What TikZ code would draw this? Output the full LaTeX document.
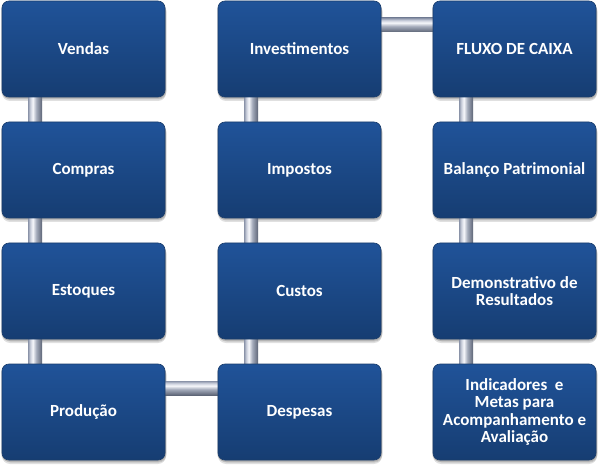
\documentclass[tikz,border=0pt]{standalone}
\usepackage{fontspec}
\setmainfont{Carlito}
\usetikzlibrary{backgrounds,calc}
\definecolor{boxtop}{HTML}{205399}
\definecolor{boxbot}{HTML}{163D72}
\definecolor{boxedge}{HTML}{1A3D6C}
\definecolor{barA}{HTML}{8A93A8}
\definecolor{barL}{HTML}{C9CEDB}
\definecolor{barM}{HTML}{F6F7FB}
\definecolor{barG}{HTML}{A3AABA}
\definecolor{barB}{HTML}{5E6677}
\pgfdeclarehorizontalshading{vbarshade}{100bp}{color(0bp)=(barA); color(25bp)=(barA); color(33bp)=(barL); color(42bp)=(barM); color(55bp)=(barG); color(75bp)=(barB); color(100bp)=(barB)}
\pgfdeclareverticalshading{hbarshade}{100bp}{color(0bp)=(barB); color(25bp)=(barB); color(45bp)=(barG); color(58bp)=(barM); color(67bp)=(barL); color(75bp)=(barA); color(100bp)=(barA)}
\tikzset{
  box/.style={rounded corners=7pt, minimum width=163pt, minimum height=96pt,
    top color=boxtop, bottom color=boxbot, draw=boxedge, line width=0.6pt,
    text=white, font=\bfseries\fontsize{17}{17.5}\selectfont, align=center,
    inner sep=2pt, outer sep=0pt},
  shadowbox/.style={rounded corners=8pt, fill=black, opacity=0.12},
  vbar/.style={shading=vbarshade},
  hbar/.style={shading=hbarshade},
}
\begin{document}
\begin{tikzpicture}[x=1pt,y=-1pt]
\useasboundingbox (0,0) rectangle (598,468);
% boxes
\node[box] (vendas)   at (83.5,49)  {Vendas};
\node[box] (compras)  at (83.5,170) {Compras};
\node[box] (estoques) at (83.5,291) {Estoques};
\node[box] (producao) at (83.5,412) {Produção};
\node[box] (invest)   at (299.5,49)  {Investimentos};
\node[box] (impostos) at (299.5,170) {Impostos};
\node[box] (custos)   at (299.5,291) {Custos};
\node[box] (despesas) at (299.5,412) {Despesas};
\node[box] (fluxo)    at (514.5,49)  {FLUXO DE CAIXA};
\node[box] (balanco)  at (514.5,170) {Balanço Patrimonial};
\node[box] (demo)     at (514.5,291) {Demonstrativo de\\Resultados};
\node[box] (indic)    at (514.5,412) {Indicadores\ \ e\\Metas para\\Acompanhamento e\\Avaliação};
\begin{scope}[on background layer]
  \fill[white] (0,0) rectangle (598,468);
  % soft shadows
  \foreach \n in {vendas,compras,estoques,producao,invest,impostos,custos,despesas,fluxo,balanco,demo,indic}{
    \fill[shadowbox] ($(\n.north west)+(0,3)$) rectangle ($(\n.south east)+(1,4)$);
    \fill[shadowbox] ($(\n.north west)+(0.5,2)$) rectangle ($(\n.south east)+(1.5,2.5)$);
    \fill[shadowbox] ($(\n.north west)+(-1,1)$) rectangle ($(\n.south east)+(1,1.5)$);
  }
  % vertical connectors
  \foreach \a/\b in {vendas/compras,compras/estoques,estoques/producao,
                     invest/impostos,impostos/custos,custos/despesas,
                     fluxo/balanco,balanco/demo,demo/indic}{
    \shade[vbar] ($(\a.south west)+(26,-6)$) rectangle ($(\b.north west)+(40,6)$);
  }
  % horizontal connectors
  \shade[hbar] ($(producao.north east)+(-6,17)$) rectangle ($(despesas.north west)+(6,31)$);
  \shade[hbar] ($(invest.north east)+(-6,17)$) rectangle ($(fluxo.north west)+(6,31)$);
\end{scope}
\end{tikzpicture}
\end{document}
